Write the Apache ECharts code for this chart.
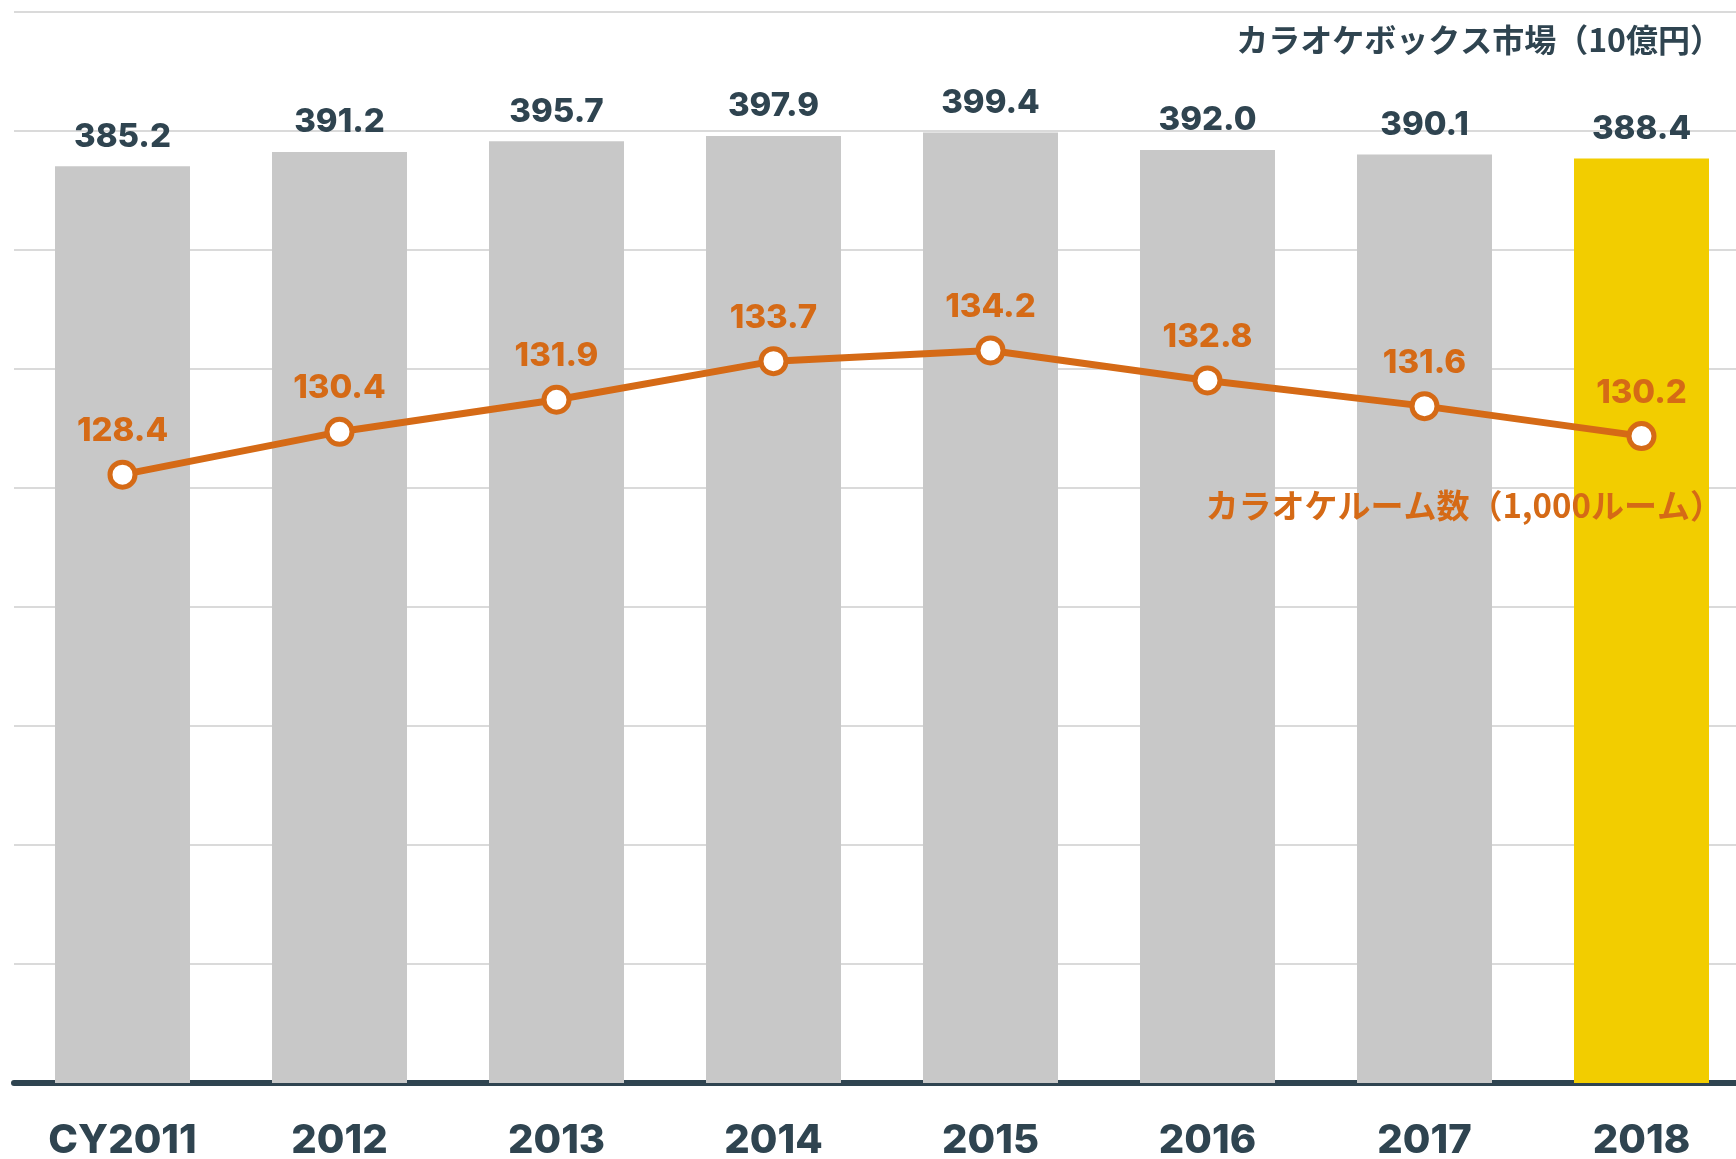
<!DOCTYPE html>
<html>
<head>
<meta charset="utf-8">
<script src="https://cdn.jsdelivr.net/npm/echarts@6/dist/echarts.min.js"></script>
<style>
  html, body { margin: 0; padding: 0; background: #ffffff; }
  #chart { width: 1736px; height: 1159px; }
</style>
</head>
<body>
<div id="chart"></div>
<script>
// Karaoke box market (bars, 10 億円) and karaoke room count (line, 1,000 rooms)
const categories = ['CY2011', '2012', '2013', '2014', '2015', '2016', '2017', '2018'];
const marketSize = [385.2, 391.2, 395.7, 397.9, 399.4, 392.0, 390.1, 388.4];
const roomCount = [128.4, 130.4, 131.9, 133.7, 134.2, 132.8, 131.6, 130.2];
const marketTitle = 'カラオケボックス市場（10億円）';
const roomTitle = 'カラオケルーム数（1,000ルーム）';

const DARK = '#2f4450';
const ORANGE = '#d56a16';
const GREY = '#c8c8c8';
const YELLOW = '#f2cd00';
const LATIN = 'Inter, "Liberation Sans", Arial, sans-serif';
const CJK = '"Noto Sans CJK JP", "Noto Sans", sans-serif';

const chart = echarts.init(document.getElementById('chart'), null, { renderer: 'canvas' });

chart.setOption({
  backgroundColor: '#ffffff',
  animation: false,
  // the last category column runs slightly past the right edge
  grid: { left: 14, width: 1736, top: 12, bottom: 76, containLabel: false, outerBoundsMode: 'none' },
  xAxis: {
    type: 'category',
    data: categories,
    offset: 3,
    axisLine: { show: true, lineStyle: { color: DARK, width: 6 } },
    axisTick: { show: false },
    axisLabel: {
      margin: 35,
      color: DARK,
      fontFamily: LATIN,
      fontWeight: 800,
      fontSize: 40
    }
  },
  yAxis: [
    {
      type: 'value',
      min: 0,
      max: 450,
      interval: 50,
      axisLine: { show: false },
      axisTick: { show: false },
      axisLabel: { show: false },
      splitLine: { show: true, lineStyle: { color: '#dadada', width: 2 } }
    },
    {
      type: 'value',
      min: 100,
      max: 150,
      show: false,
      splitLine: { show: false }
    }
  ],
  series: [
    {
      name: marketTitle,
      type: 'bar',
      yAxisIndex: 0,
      data: marketSize,
      barWidth: 135,
      itemStyle: {
        color: (p) => (p.dataIndex === marketSize.length - 1 ? YELLOW : GREY)
      },
      label: {
        show: true,
        position: 'top',
        distance: 13,
        color: DARK,
        fontFamily: LATIN,
        fontWeight: 800,
        fontSize: 33,
        lineHeight: 33,
        formatter: (p) => p.value.toFixed(1)
      },
      z: 2
    },
    {
      name: roomTitle,
      type: 'line',
      yAxisIndex: 1,
      data: roomCount,
      symbol: 'circle',
      symbolSize: 25,
      lineStyle: { color: ORANGE, width: 7 },
      itemStyle: { color: '#ffffff', borderColor: ORANGE, borderWidth: 5 },
      label: {
        show: true,
        position: 'top',
        distance: 12,
        color: ORANGE,
        fontFamily: LATIN,
        fontWeight: 800,
        fontSize: 33,
        lineHeight: 33,
        formatter: (p) => p.value.toFixed(1)
      },
      z: 5
    }
  ],
  graphic: [
    {
      type: 'text',
      right: 14,
      top: 24,
      z: 10,
      style: {
        text: marketTitle,
        fill: DARK,
        font: 'bold 32px ' + CJK
      }
    },
    {
      type: 'text',
      right: 13,
      top: 489,
      z: 10,
      style: {
        text: roomTitle,
        fill: ORANGE,
        font: 'bold 33px ' + CJK
      }
    }
  ]
});
</script>
</body>
</html>
